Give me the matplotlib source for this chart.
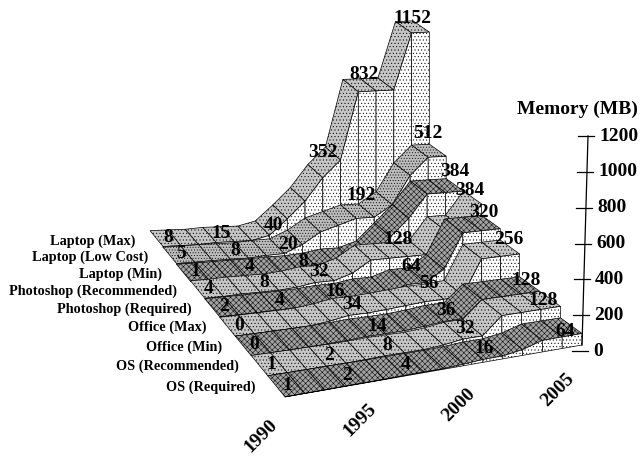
import numpy as np
import matplotlib
matplotlib.use("Agg")
import matplotlib.pyplot as plt
from matplotlib.patches import Polygon

years = list(range(1990, 2006))
series_names = ["OS (Required)", "OS (Recommended)", "Office (Min)", "Office (Max)",
                "Photoshop (Required)", "Photoshop (Recommended)", "Laptop (Min)",
                "Laptop (Low Cost)", "Laptop (Max)"]

os_req = [1, 1, 1, 2, 2, 2, 4, 4, 4, 8, 16, 16, 32, 64, 64, 64]
os_rec = [1, 1, 1, 2, 2, 4, 8, 8, 8, 16, 32, 32, 128, 128, 128, 128]
office_min = [0, 0, 1, 2, 4, 8, 14, 14, 16, 24, 36, 36, 128, 128, 128, 128]
office_max = [0, 0, 1, 2, 4, 16, 34, 34, 40, 48, 56, 56, 64, 256, 256, 256]
ps_req = [2, 2, 2, 4, 4, 8, 16, 16, 32, 32, 64, 64, 128, 320, 320, 320]
ps_rec = [4, 4, 8, 8, 8, 16, 32, 32, 64, 128, 128, 128, 128, 256, 256, 384]
laptop_min = [1, 1, 2, 4, 4, 8, 8, 16, 32, 32, 64, 160, 256, 384, 384, 384]
laptop_low = [5, 5, 8, 8, 8, 16, 20, 64, 128, 160, 192, 192, 256, 416, 512, 512]
laptop_max = [8, 8, 8, 15, 15, 15, 40, 128, 224, 352, 448, 832, 832, 832, 1152, 1152]
all_series = [os_req, os_rec, office_min, office_max, ps_req, ps_rec,
              laptop_min, laptop_low, laptop_max]

# years that carry a printed value, per series
label_years = [[1990, 1993, 1996, 2000, 2004],
               [1990, 1993, 1996, 2000, 2004],
               [1990, 1996, 2000, 2004],
               [1990, 1996, 2000, 2004],
               [1990, 1993, 1996, 2000, 2004],
               [1990, 1993, 1996, 2000, 2005],
               [1990, 1993, 1996, 2004],
               [1990, 1993, 1996, 2000, 2004],
               [1990, 1993, 1996, 1999, 2001, 2004]]

z_ticks = [0, 200, 400, 600, 800, 1000, 1200]
year_ticks = [1990, 1995, 2000, 2005]

plt.rcParams['font.family'] = ['Liberation Serif', 'DejaVu Serif']
plt.rcParams['hatch.linewidth'] = 0.35

# floor corners in picture pixels
front_left = np.array([285.0, 397.0])
front_right = np.array([582.0, 345.0])
back_left = np.array([150.0, 232.0])
back_right = np.array([413.0, 222.0])
depth_k = 0.17


def project(t, s, value):
    # perspective only across the rows, years stay evenly spaced along a row
    f = s * (1 + depth_k) / (9 + depth_k * s)
    left = front_left + (back_left - front_left) * f
    right = front_right + (back_right - front_right) * f
    x, y = left + (right - left) * t / 15
    scale = 0.18 - 0.0006 * s
    return x, y - value * scale


fig = plt.figure(figsize=(6.4, 4.66), dpi=100)
ax = fig.add_axes([0, 0, 1, 1])
ax.set_xlim(0, 640)
ax.set_ylim(466, 0)
ax.axis('off')

dark = ('#a2a2a2', 'xxxxxx')
light = ('#c6c6c6', '.....')
plate_styles = [dark, light, dark, light, dark, light, dark, ('#bcbcbc', '......'), light]
# hand placed printed values that sit off the regular spot
label_nudge = {(5, 2005): (-14, 4), (2, 1996): (8, 0), (5, 2000): (6, -4), (4, 2000): (2, -6),
               (3, 2000): (2, -7), (7, 2004): (-3, -7), (7, 2000): (1, -6), (6, 2004): (7, -4),
               (3, 2004): (6, 1), (2, 2004): (4, 1), (1, 2004): (1, 6), (0, 2004): (2, 7),
               (8, 1999): (-4, -8), (8, 2001): (2, 0), (8, 2004): (-3, 2)}

# back row first, so nearer ribbons cover it
for row in range(8, -1, -1):
    vals = all_series[row]
    face, hatch = plate_styles[row]
    # plates right to left, the viewer stands on the left
    for t in range(14, -1, -1):
        pts = [project(t, row, vals[t]), project(t + 1, row, vals[t + 1]),
               project(t + 1, row + 1, vals[t + 1]), project(t, row + 1, vals[t])]
        ax.add_patch(Polygon(pts, closed=True, facecolor=face, edgecolor='black',
                             linewidth=0.5, hatch=hatch))
    for t in range(15):
        pts = [project(t, row, vals[t]), project(t + 1, row, vals[t + 1]),
               project(t + 1, row, 0), project(t, row, 0)]
        ax.add_patch(Polygon(pts, closed=True, facecolor='white', edgecolor='black',
                             linewidth=0.5, hatch='.....'))

    for yr in label_years[row]:
        t = yr - years[0]
        x, y = project(t, row + 0.5, vals[t])
        dx, dy = label_nudge.get((row, yr), (0, 0))
        lift = min(10, vals[t] * 0.05)
        ax.text(x + 11.5 + dx, y - 1 - lift + dy, str(vals[t]), fontsize=14, fontweight='bold',
                ha='center', va='center', zorder=20)

    x, y = project(0, row + 0.5, 0)
    ax.text(x - 21, y + 1, series_names[row], fontsize=10.3, fontweight='bold',
            ha='right', va='center', zorder=20)

# value axis at the front right corner, leaning slightly to the right
x0, y0 = project(15, 0, 0)
x1, y1 = project(15, 0, z_ticks[-1])
lean = 6 / z_ticks[-1]
ax.plot([x0, x1 + 6], [y0, y1 + 7], color='black', linewidth=0.9)
for v in z_ticks:
    x, y = project(15, 0, v)
    x += v * lean
    tick_y = y + 6 + v * 0.001
    ax.plot([x - 10, x + 6], [tick_y, tick_y], color='black', linewidth=0.9)
    ax.text(x + 11, tick_y, str(v), fontsize=14, fontweight='bold',
            ha='left', va='center')
ax.text(638, 109, "Memory (MB)", fontsize=14, fontweight='bold', ha='right', va='center')

for yr in year_ticks:
    t = yr - years[0]
    x, y = project(t, 0, 0)
    ax.text(x - 10, y + 25 + t * 0.4, str(yr), fontsize=14, fontweight='bold', rotation=45,
            rotation_mode='anchor', ha='right', va='center')

fig.savefig("out.png", dpi=100)
